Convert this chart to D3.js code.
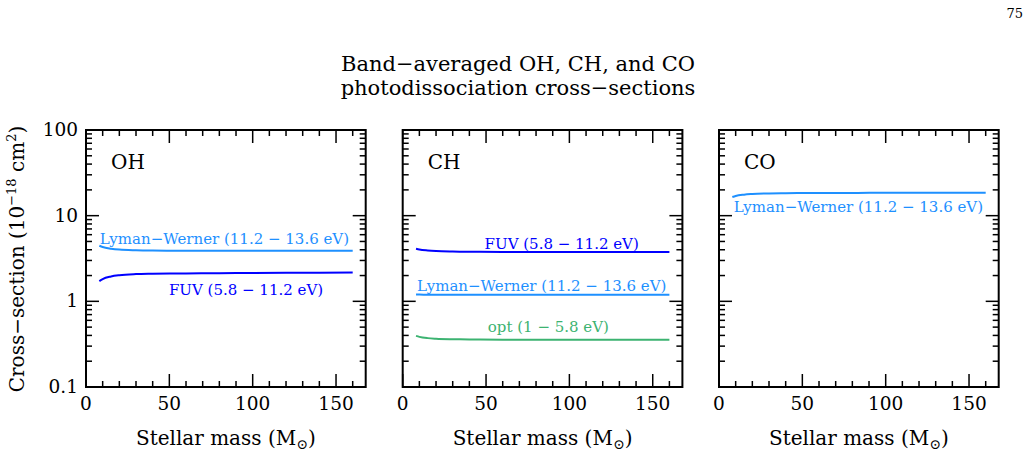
<!DOCTYPE html>
<html>
<head>
	<meta charset="utf-8">
	<title>Band-averaged photodissociation cross-sections</title>
	<script src="https://cdnjs.cloudflare.com/ajax/libs/d3/7.8.5/d3.min.js"></script>
	<style>
	body { margin: 0; background: #fff; }
	text { font-family: "DejaVu Serif", serif; fill: #000; }
	</style>
</head>
<body>
	<svg id="svg" width="1034" height="469"></svg>

	<script>
	// stellar masses (Msun) at which the curves are sampled
	const masses = [8, 10, 15, 20, 30, 40, 60, 80, 100, 120, 140, 160]

	// cross-sections in 1e-18 cm^2
	const ohLW  = [4.45, 4.3, 4.12, 4.02, 3.95, 3.92, 3.9, 3.9, 3.9, 3.9, 3.9, 3.9]
	const ohFUV = [1.72, 1.82, 1.95, 2.02, 2.08, 2.1, 2.12, 2.13, 2.14, 2.15, 2.16, 2.17]
	const chFUV = [4.1, 4.02, 3.92, 3.86, 3.81, 3.79, 3.77, 3.76, 3.76, 3.76, 3.76, 3.76]
	const chLW  = [1.2, 1.2, 1.19, 1.19, 1.19, 1.19, 1.19, 1.19, 1.19, 1.19, 1.19, 1.19]
	const chOpt = [0.395, 0.385, 0.372, 0.366, 0.361, 0.359, 0.357, 0.356, 0.356, 0.356, 0.355, 0.355]
	const coLW  = [16.5, 17.0, 17.6, 17.9, 18.2, 18.3, 18.4, 18.4, 18.5, 18.5, 18.5, 18.5]

	const panelNames = ['OH', 'CH', 'CO']
	const xTicks = [0, 50, 100, 150]
	const yTicks = [0.1, 1, 10, 100]
	const yTickLabels = ['0.1', '1', '10', '100']

	const lwColor = '#1e90ff', fuvColor = '#0000ff', optColor = '#3cb371'

	const lwLabel = 'Lyman\u2212Werner (11.2 \u2212 13.6 eV)'
	const fuvLabel = 'FUV (5.8 \u2212 11.2 eV)'
	const optLabel = 'opt (1 \u2212 5.8 eV)'

	// curves per panel, label anchored in data coords (mass, value)
	const panels = [
		{name: panelNames[0], left: 86, curves: [
			{vals: ohLW, color: lwColor, label: lwLabel, lx: 83, ly: 4.7},
			{vals: ohFUV, color: fuvColor, label: fuvLabel, lx: 96, ly: 1.17}
		]},
		{name: panelNames[1], left: 402.7, curves: [
			{vals: chFUV, color: fuvColor, label: fuvLabel, lx: 95.4, ly: 4.09},
			{vals: chLW, color: lwColor, label: lwLabel, lx: 83.4, ly: 1.31},
			{vals: chOpt, color: optColor, label: optLabel, lx: 87.4, ly: 0.44}
		]},
		{name: panelNames[2], left: 719, curves: [
			{vals: coLW, color: lwColor, label: lwLabel, lx: 83.6, ly: 11.0}
		]}
	]

	const pw = 279.7, plotTop = 130, plotBottom = 387
	const svg = d3.select('#svg')

	// page number + title
	svg.append('text').attr('x', 1023).attr('y', 18).attr('text-anchor', 'end')
		.style('font-size', '13px').text('75')
	svg.append('text').attr('x', 518).attr('y', 71).attr('text-anchor', 'middle')
		.style('font-size', '21px').text('Band\u2212averaged OH, CH, and CO')
	svg.append('text').attr('x', 518).attr('y', 95).attr('text-anchor', 'middle')
		.style('font-size', '21px').text('photodissociation cross\u2212sections')

	// y label
	const yl = svg.append('text')
		.attr('transform', 'translate(24,259) rotate(-90)')
		.attr('text-anchor', 'middle')
		.style('font-size', '20px')
	yl.append('tspan').text('Cross\u2212section (10')
	yl.append('tspan').attr('dy', -8).style('font-size', '13px').text('\u221218')
	yl.append('tspan').attr('dy', 8).text(' cm')
	yl.append('tspan').attr('dy', -8).style('font-size', '13px').text('2')
	yl.append('tspan').attr('dy', 8).text(')')

	const minorX = d3.range(10, 170, 10).filter(d => d % 50 != 0)
	const minorY = []
	;[0.1, 1, 10].forEach(dec => d3.range(2, 10).forEach(k => minorY.push(dec * k)))

	panels.forEach((p, pi) => {
		const x = d3.scaleLinear().domain([0, 167.8]).range([p.left, p.left + pw])
		const y = d3.scaleLog().domain([0.1, 100]).range([plotBottom, plotTop])
		const g = svg.append('g')

		const line = d3.line().x((d, i) => x(masses[i])).y(d => y(d)).curve(d3.curveMonotoneX)

		p.curves.forEach(c => {
			g.append('path').attr('d', line(c.vals))
				.attr('fill', 'none').attr('stroke', c.color).attr('stroke-width', 2)
			g.append('text').attr('x', x(c.lx)).attr('y', y(c.ly))
				.attr('text-anchor', 'middle').style('font-size', '15px')
				.style('fill', c.color).text(c.label)
		})

		// frame
		g.append('rect').attr('x', p.left).attr('y', plotTop)
			.attr('width', pw).attr('height', plotBottom - plotTop)
			.attr('fill', 'none').attr('stroke', '#000').attr('stroke-width', 2)

		// ticks on all four sides
		const tk = (x1, y1, x2, y2) => g.append('line')
			.attr('x1', x1).attr('y1', y1).attr('x2', x2).attr('y2', y2)
			.attr('stroke', '#000').attr('stroke-width', 1.5)
		xTicks.forEach(v => { tk(x(v), plotBottom, x(v), plotBottom - 13); tk(x(v), plotTop, x(v), plotTop + 13) })
		minorX.forEach(v => { tk(x(v), plotBottom, x(v), plotBottom - 6); tk(x(v), plotTop, x(v), plotTop + 6) })
		yTicks.forEach(v => { tk(p.left, y(v), p.left + 13, y(v)); tk(p.left + pw, y(v), p.left + pw - 13, y(v)) })
		minorY.forEach(v => { tk(p.left, y(v), p.left + 6, y(v)); tk(p.left + pw, y(v), p.left + pw - 6, y(v)) })

		xTicks.forEach(v => g.append('text').attr('x', x(v)).attr('y', plotBottom + 23)
			.attr('text-anchor', 'middle').style('font-size', '18.5px').text(v))

		if (pi == 0) {
			yTicks.forEach((v, i) => g.append('text').attr('x', p.left - 8).attr('y', y(v) + 6)
				.attr('text-anchor', 'end').style('font-size', '18.5px').text(yTickLabels[i]))
		}

		g.append('text').attr('x', p.left + 25).attr('y', 169)
			.style('font-size', '20px').text(p.name)

		const xl = g.append('text').attr('x', p.left + pw / 2).attr('y', 445)
			.attr('text-anchor', 'middle').style('font-size', '20px')
		xl.append('tspan').text('Stellar mass (M')
		xl.append('tspan').attr('dy', 4).style('font-size', '14px').text('\u2299')
		xl.append('tspan').attr('dy', -4).text(')')
	})
	</script>
</body>
</html>
